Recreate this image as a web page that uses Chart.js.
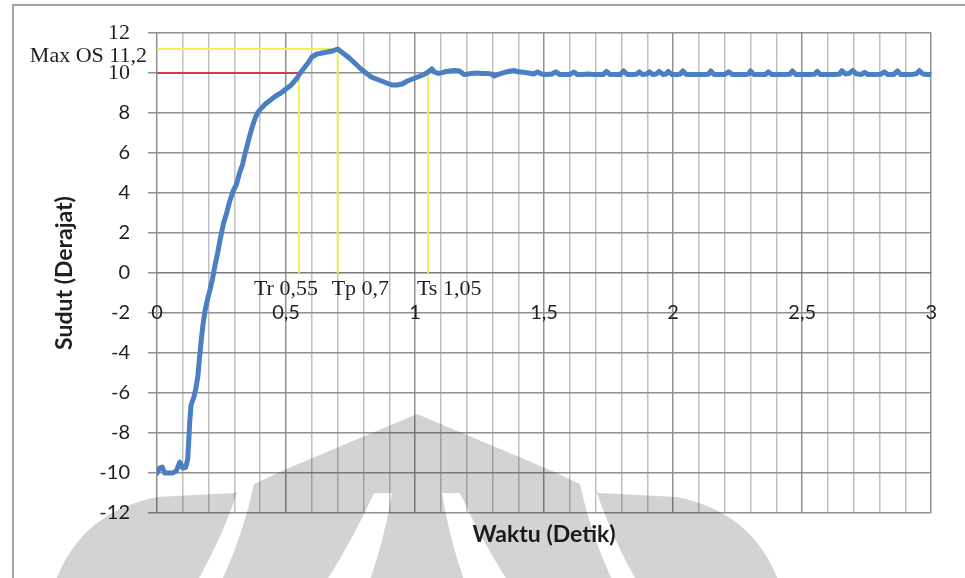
<!DOCTYPE html>
<html>
<head>
<meta charset="utf-8">
<script src="https://cdn.jsdelivr.net/npm/chart.js@4.4.1/dist/chart.umd.min.js"></script>
<style>
  html, body { margin: 0; padding: 0; background: #ffffff; }
  #wrap { width: 965px; height: 578px; }
</style>
</head>
<body>
<div id="wrap"><canvas id="c" width="965" height="578"></canvas></div>
<script>
// Step response: time (s) and angle (degrees)
const waktu = [
  0.000, 0.010, 0.020, 0.030, 0.045, 0.060, 0.075, 0.088, 0.100, 0.112,
  0.119, 0.123, 0.127, 0.132, 0.143, 0.150, 0.158, 0.165, 0.172, 0.178,
  0.186, 0.196, 0.206, 0.215, 0.225, 0.235, 0.245, 0.258, 0.270, 0.282,
  0.295, 0.307, 0.320, 0.331, 0.340, 0.348, 0.358, 0.370, 0.382, 0.392,
  0.405, 0.420, 0.440, 0.460, 0.480, 0.500, 0.520, 0.540, 0.555, 0.570,
  0.585, 0.600, 0.620, 0.640, 0.660, 0.680, 0.700, 0.720, 0.745, 0.770,
  0.790, 0.810, 0.830, 0.850, 0.870, 0.890, 0.910, 0.930, 0.950, 0.970,
  0.990, 1.010, 1.030, 1.045, 1.055, 1.065, 1.075, 1.090, 1.105, 1.115,
  1.135, 1.155, 1.172, 1.190, 1.205, 1.220, 1.240, 1.260, 1.280, 1.295,
  1.306, 1.320, 1.335, 1.350, 1.370, 1.385, 1.400, 1.420, 1.440, 1.460,
  1.475, 1.490, 1.510, 1.530, 1.545, 1.560, 1.580, 1.600, 1.615, 1.630,
  1.650, 1.670, 1.690, 1.710, 1.730, 1.742, 1.755, 1.780, 1.795, 1.808,
  1.822, 1.845, 1.860, 1.869, 1.880, 1.898, 1.908, 1.920, 1.935, 1.946,
  1.960, 1.972, 1.981, 1.995, 2.015, 2.028, 2.038, 2.050, 2.075, 2.100,
  2.125, 2.138, 2.146, 2.158, 2.180, 2.200, 2.215, 2.230, 2.255, 2.280,
  2.292, 2.300, 2.312, 2.340, 2.358, 2.369, 2.382, 2.410, 2.435, 2.452,
  2.462, 2.475, 2.500, 2.525, 2.548, 2.558, 2.570, 2.600, 2.625, 2.645,
  2.654, 2.668, 2.682, 2.696, 2.710, 2.730, 2.742, 2.755, 2.780, 2.805,
  2.819, 2.832, 2.855, 2.869, 2.882, 2.910, 2.930, 2.943, 2.954, 2.968,
  2.985, 3.000
];
const sudut = [
  -10.0, -9.75, -9.7, -10.0, -10.0, -10.0, -9.9, -9.45, -9.75, -9.7,
  -9.3, -8.4, -7.4, -6.6, -6.2, -5.8, -5.2, -4.2, -3.3, -2.6,
  -1.9, -1.3, -0.8, -0.3, 0.4, 1.0, 1.7, 2.5, 3.0, 3.6,
  4.1, 4.4, 5.0, 5.4, 5.9, 6.3, 6.8, 7.35, 7.8, 8.05,
  8.25, 8.45, 8.65, 8.85, 9.0, 9.2, 9.4, 9.7, 10.0, 10.25,
  10.5, 10.8, 10.95, 11.0, 11.05, 11.1, 11.2, 11.0, 10.75, 10.45,
  10.2, 10.0, 9.8, 9.7, 9.6, 9.5, 9.4, 9.4, 9.45, 9.6,
  9.7, 9.8, 9.9, 10.0, 10.1, 10.2, 10.05, 9.98, 10.02, 10.06,
  10.1, 10.12, 10.1, 9.92, 9.95, 9.98, 10.0, 9.97, 9.98, 9.95,
  9.85, 9.92, 9.98, 10.04, 10.1, 10.12, 10.06, 10.04, 10.0, 9.95,
  10.06, 9.95, 9.93, 9.95, 10.06, 9.93, 9.92, 9.93, 10.05, 9.92,
  9.93, 9.95, 9.93, 9.92, 9.93, 10.08, 9.93, 9.92, 9.93, 10.1,
  9.93, 9.92, 9.95, 10.06, 9.93, 9.95, 10.06, 9.93, 9.95, 10.08,
  9.93, 9.95, 10.08, 9.93, 9.92, 9.95, 10.1, 9.93, 9.92, 9.93,
  9.92, 9.95, 10.1, 9.93, 9.92, 9.93, 10.06, 9.92, 9.93, 9.92,
  9.95, 10.1, 9.93, 9.92, 9.93, 10.06, 9.92, 9.93, 9.92, 9.94,
  10.1, 9.93, 9.92, 9.93, 9.94, 10.08, 9.93, 9.92, 9.93, 9.95,
  10.12, 9.95, 9.98, 10.12, 9.96, 9.93, 10.04, 9.92, 9.93, 9.94,
  10.06, 9.92, 9.93, 10.1, 9.93, 9.92, 9.94, 9.96, 10.12, 9.95,
  9.93, 9.92
];

// Response characteristics
const setpoint = 10;      // reference angle (deg)
const maxOS = 11.2;       // peak value (deg)
const tRise = 0.55;       // rise time (s)
const tPeak = 0.7;        // peak time (s)
const tSettle = 1.05;     // settling time (s)

const xTickLabels = ['0', '0,5', '1', '1,5', '2', '2,5', '3'];

const fmt = v => String(v).replace('.', ',');

const SANS = 'Lato, "Open Sans", sans-serif';
const SERIF = '"Liberation Serif", "DejaVu Serif", serif';
const MINOR = '#c0c0c0';
const MAJOR = '#909090';
const AXIS0 = '#7a7a7a';
const YELLOW = '#f3ef55';
const RED = '#d6403c';
const BLUE = '#4a7fc1';

const isMult = (v, s) => Math.abs(v / s - Math.round(v / s)) < 1e-6;

const seg = (x1, y1, x2, y2) => [{ x: x1, y: y1 }, { x: x2, y: y2 }];

const datasets = [
  {
    data: waktu.map((t, i) => ({ x: t, y: sudut[i] })),
    borderColor: BLUE, borderWidth: 5, showLine: true, pointRadius: 0, tension: 0,
    borderJoinStyle: 'round', borderCapStyle: 'round'
  },
  { data: seg(0, maxOS, tPeak, maxOS), borderColor: YELLOW, borderWidth: 2, showLine: true, pointRadius: 0 },
  { data: seg(0, setpoint, tRise, setpoint), borderColor: RED, borderWidth: 2, showLine: true, pointRadius: 0 },
  { data: seg(tRise, setpoint, tRise, 0), borderColor: YELLOW, borderWidth: 2, showLine: true, pointRadius: 0 },
  { data: seg(tPeak, maxOS, tPeak, 0), borderColor: YELLOW, borderWidth: 2, showLine: true, pointRadius: 0 },
  { data: seg(tSettle, setpoint, tSettle, 0), borderColor: YELLOW, borderWidth: 2, showLine: true, pointRadius: 0 }
];

// Page background and outer frame
const framePlugin = {
  id: 'frame',
  beforeDraw(chart) {
    const c = chart.ctx;
    c.save();
    c.fillStyle = '#ffffff';
    c.fillRect(0, 0, chart.width, chart.height);
    c.strokeStyle = '#a3a3a3';
    c.lineWidth = 2;
    c.strokeRect(13, 5, chart.width + 20, chart.height + 20);
    c.restore();
  }
};

// Text labels for the response characteristics
const notesPlugin = {
  id: 'notes',
  afterDraw(chart) {
    const c = chart.ctx;
    const xs = chart.scales.x, ys = chart.scales.y;
    c.save();
    c.fillStyle = '#1f1f1f';
    c.font = '22px ' + SERIF;
    c.textBaseline = 'alphabetic';
    const base = ys.getPixelForValue(0) + 22;
    c.textAlign = 'left';
    c.fillText('Tr ' + fmt(tRise), xs.getPixelForValue(tRise) - 45, base);
    c.fillText('Tp ' + fmt(tPeak), xs.getPixelForValue(tPeak) - 6, base);
    c.fillText('Ts ' + fmt(tSettle), xs.getPixelForValue(tSettle) - 11, base);
    c.textAlign = 'right';
    c.fillText('Max OS ' + fmt(maxOS), 147, ys.getPixelForValue(maxOS) + 13);
    c.restore();
  }
};

// Grey university emblem printed behind the page
const emblemPlugin = {
  id: 'emblem',
  afterDraw(chart) {
    const off = document.createElement('canvas');
    off.width = chart.width; off.height = chart.height;
    const g = off.getContext('2d');
    g.fillStyle = '#d3d3d3';
    g.beginPath();
    g.moveTo(56, 580);
    g.quadraticCurveTo(82, 512, 157, 497);
    g.lineTo(235, 493);
    g.lineTo(284, 470);
    g.lineTo(417, 414);
    g.lineTo(550, 470);
    g.lineTo(599, 493);
    g.lineTo(677, 497);
    g.quadraticCurveTo(752, 512, 778, 580);
    g.closePath();
    g.fill();
    g.globalCompositeOperation = 'destination-out';
    g.fillStyle = '#000';
    const stripe = (tl, tr, bl, br, ty, bend) => {
      g.beginPath();
      g.moveTo(tl, ty);
      g.lineTo(tr, ty);
      g.quadraticCurveTo((tr + br) / 2 + bend, (ty + 580) / 2, br, 580);
      g.lineTo(bl, 580);
      g.quadraticCurveTo((tl + bl) / 2 + bend, (ty + 580) / 2, tl, ty);
      g.closePath();
      g.fill();
    };
    stripe(240, 254, 198, 222, 484, 6);
    stripe(374, 392, 327, 370, 493, 4);
    stripe(442, 460, 464, 507, 493, -4);
    stripe(580, 594, 612, 636, 484, -6);
    const c = chart.ctx;
    c.save();
    c.globalCompositeOperation = 'multiply';
    c.drawImage(off, 0, 0);
    c.restore();
  }
};

new Chart(document.getElementById('c'), {
  type: 'scatter',
  data: { datasets },
  options: {
    responsive: false,
    animation: false,
    events: [],
    layout: { padding: { left: 0, top: 33, right: 28, bottom: 0 } },
    plugins: { legend: { display: false }, tooltip: { enabled: false } },
    scales: {
      x: {
        type: 'linear', position: 'bottom', min: 0, max: 3,
        ticks: { stepSize: 0.1, display: false },
        grid: {
          drawTicks: false, lineWidth: 1.5,
          color: ctx => isMult(ctx.tick.value, 0.5) ? MAJOR : MINOR
        },
        border: { display: false },
        title: {
          display: true, text: 'Waktu (Detik)', color: '#1f1f1f',
          font: { family: SANS, size: 23, weight: 'bold' },
          padding: { top: 0, bottom: 30 }
        },
        afterFit: s => { s.height = 65; }
      },
      x2: {
        type: 'linear', axis: 'x', position: { y: 0 }, min: 0, max: 3,
        ticks: {
          stepSize: 0.5, padding: 28, color: '#1f1f1f', maxRotation: 0,
          font: { family: SANS, size: 20 },
          callback: (v, i) => xTickLabels[i]
        },
        grid: { drawOnChartArea: false, drawTicks: false },
        border: { display: false }
      },
      y: {
        type: 'linear', position: 'left', min: -12, max: 12,
        ticks: {
          stepSize: 1, padding: 18, color: '#1f1f1f',
          font: ctx => (ctx.tick && ctx.tick.value >= 10)
            ? { family: SERIF, size: 22 }
            : { family: SANS, size: 20 },
          callback: v => (v % 2 === 0 ? String(v) : '')
        },
        grid: {
          lineWidth: 1.5, tickLength: 9,
          color: ctx => ctx.tick.value === 0 ? AXIS0 : (ctx.tick.value % 2 === 0 ? MAJOR : MINOR),
          tickColor: ctx => ctx.tick.value % 2 === 0 ? MAJOR : 'rgba(0,0,0,0)'
        },
        border: { display: false },
        title: {
          display: true, text: 'Sudut (Derajat)', color: '#1f1f1f',
          font: { family: SANS, size: 23, weight: 'bold' },
          padding: { top: 51, bottom: 0 }
        },
        afterFit: s => { s.width = 157; }
      }
    }
  },
  plugins: [framePlugin, notesPlugin, emblemPlugin]
});
</script>
</body>
</html>
